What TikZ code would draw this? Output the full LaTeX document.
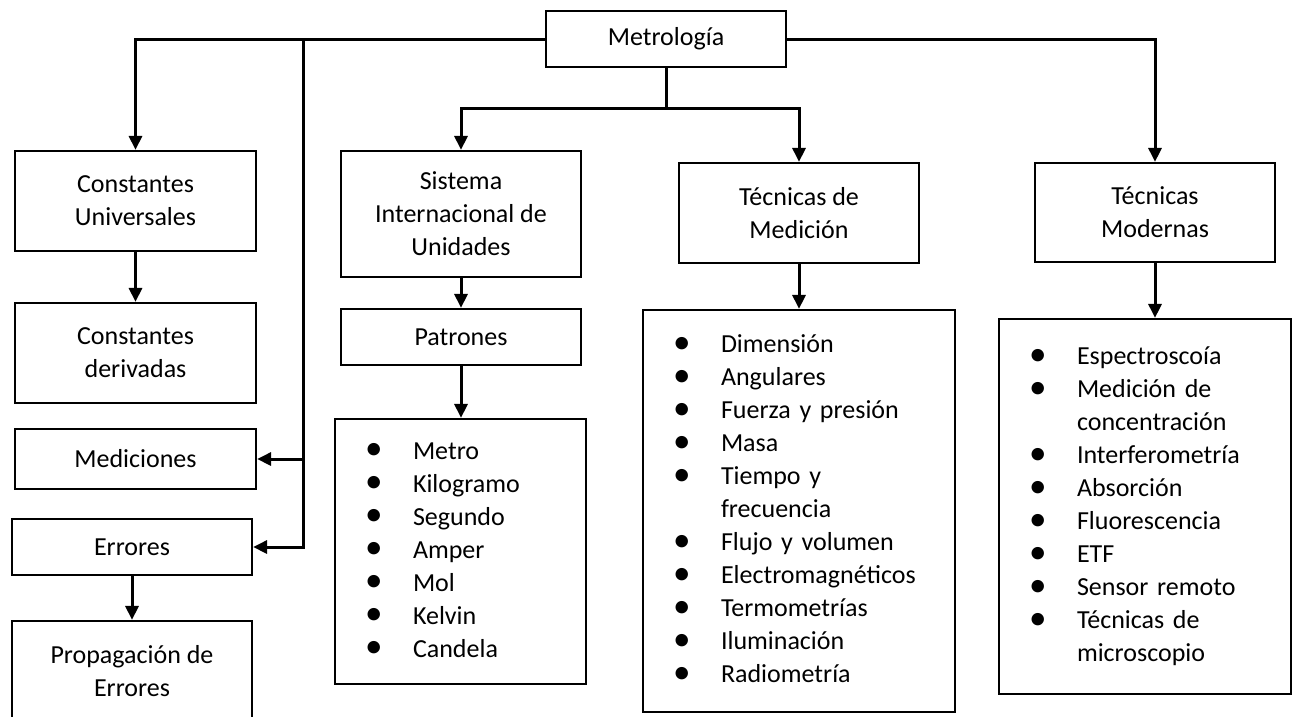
\documentclass[tikz,border=0pt]{standalone}
\usepackage{graphicx}
\usepackage{fontspec}
\setmainfont{Carlito}
\usetikzlibrary{arrows.meta}
\newcommand{\itemrow}[1]{\raisebox{-0.5pt}{\scalebox{1.35}{\textbullet}} & #1\\}
\newcommand{\controw}[1]{ & #1\\}
\newenvironment{blist}{\begin{tabular}{@{\hspace{30pt}}p{48pt}@{}l@{}}}{\end{tabular}}
\begin{document}
\begin{tikzpicture}[x=1pt,y=-1pt,
  every node/.style={font=\fontsize{26}{33}\selectfont},
  box/.style={draw, line width=2.2pt, inner sep=0pt, align=center},
  listbox/.style={draw, line width=2.2pt, inner sep=0pt, align=left},
  conn/.style={line width=3pt},
  arr/.style={line width=3pt, -{Triangle[length=14pt,width=13pt]}}]
\useasboundingbox (0,0) rectangle (1293,716);
% nodes
\node[box, minimum width=240pt, minimum height=56pt] (met) at (666,39) {Metrología};
\node[box, minimum width=241pt, minimum height=100pt] (cu) at (135.5,201) {Constantes\\Universales};
\node[box, minimum width=241pt, minimum height=100pt] (cd) at (135.5,353) {Constantes\\derivadas};
\node[box, minimum width=241pt, minimum height=60pt] (med) at (135.5,459) {Mediciones};
\node[box, minimum width=240pt, minimum height=56pt] (err) at (132,547) {Errores};
\node[box, minimum width=240pt, minimum height=100pt] (prop) at (132,671) {Propagación de\\Errores};
\node[box, minimum width=240pt, minimum height=126pt] (si) at (461,214) {Sistema\\Internacional de\\Unidades};
\node[box, minimum width=240pt, minimum height=56pt] (pat) at (461,337) {Patrones};
\node[listbox, text width=251pt, minimum height=265pt] (pl) at (460.5,551.5) {%
\begin{blist}
\itemrow{Metro}
\itemrow{Kilogramo}
\itemrow{Segundo}
\itemrow{Amper}
\itemrow{Mol}
\itemrow{Kelvin}
\itemrow{Candela}
\end{blist}};
\node[box, minimum width=240pt, minimum height=100pt] (tdm) at (799,213) {Técnicas de\\Medición};
\node[listbox, text width=312pt, minimum height=402pt] (tml) at (799,511) {%
\begin{blist}
\itemrow{Dimensión}
\itemrow{Angulares}
\itemrow{Fuerza y presión}
\itemrow{Masa}
\itemrow{Tiempo y}
\controw{frecuencia}
\itemrow{Flujo y volumen}
\itemrow{Electromagnéticos}
\itemrow{Termometrías}
\itemrow{Iluminación}
\itemrow{Radiometría}
\end{blist}};
\node[box, minimum width=240pt, minimum height=99pt] (tmo) at (1155,212.5) {Técnicas\\Modernas};
\node[listbox, text width=292pt, minimum height=375pt] (tmol) at (1145,506.5) {%
\begin{blist}
\itemrow{Espectroscoía}
\itemrow{Medición de}
\controw{concentración}
\itemrow{Interferometría}
\itemrow{Absorción}
\itemrow{Fluorescencia}
\itemrow{ETF}
\itemrow{Sensor remoto}
\itemrow{Técnicas de}
\controw{microscopio}
\end{blist}};
% junctions
\coordinate (j1) at (303,39);
\coordinate (j2) at (666,108);
% connectors
\draw[arr] (met.west) -| (cu.north);
\draw[arr] (j1) |- (med.east);
\draw[arr] (j1) |- (err.east);
\draw[arr] (met.east) -| (tmo.north);
\draw[conn] (met.south) -- (j2);
\draw[arr] (j2) -| (si.north);
\draw[arr] (j2) -| (tdm.north);
\draw[arr] (cu.south) -- (cd.north);
\draw[arr] (err.south) -- (prop.north);
\draw[arr] (si.south) -- (pat.north);
\draw[arr] (pat.south) -- (pat.south |- pl.north);
\draw[arr] (tdm.south) -- (tml.north);
\draw[arr] (tmo.south) -- (tmo.south |- tmol.north);
\end{tikzpicture}
\end{document}
